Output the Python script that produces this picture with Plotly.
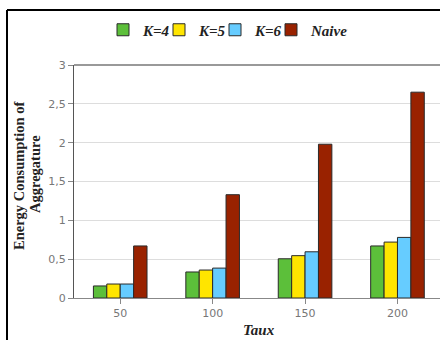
import plotly.graph_objects as go

categories = ["50", "100", "150", "200"]
series_names = ["K=4", "K=5", "K=6", "Naive"]
k4 = [0.155, 0.335, 0.505, 0.67]
k5 = [0.18, 0.36, 0.545, 0.72]
k6 = [0.18, 0.385, 0.595, 0.78]
naive = [0.67, 1.33, 1.98, 2.65]
ytick_vals = [0, 0.5, 1, 1.5, 2, 2.5, 3]
ytick_text = ["0", "0,5", "1", "1,5", "2", "2,5", "3"]
colors = ["#5CBF3A", "#FFE500", "#66CCFF", "#992200"]

W, H = 440, 340
L, R, T, B = 74, 0, 65, 42
pw = W - L - R
ph = H - T - B

def px_x(x):
    return (x - L) / pw

def px_y(y):
    return (H - B - y) / ph

fig = go.Figure()
for name, vals, col in zip(series_names, [k4, k5, k6, naive], colors):
    fig.add_trace(go.Bar(
        x=categories, y=vals, name=f"<b><i>{name}</i></b>",
        marker=dict(color=col, line=dict(color="#2a2a2a", width=1)),
    ))
# blank spacer entry so the last legend label is not clipped
fig.add_trace(go.Scatter(x=[None], y=[None], mode="markers", name="\u00a0",
                         marker=dict(opacity=0, size=1), hoverinfo="skip"))

serif = "Liberation Serif"
tickfont = dict(family="DejaVu Sans", size=11, color="#777777")

fig.update_layout(
    width=W, height=H,
    margin=dict(l=L, r=R, t=T, b=B),
    paper_bgcolor="white", plot_bgcolor="white",
    barmode="group", bargap=0.42, bargroupgap=0,
    showlegend=True,
    legend=dict(
        orientation="h", x=px_x(103), y=px_y(30), xanchor="left", yanchor="middle",
        font=dict(family=serif, size=15, color="#222222"),
        entrywidth=11, entrywidthmode="pixels",
        tracegroupgap=0, bgcolor="rgba(0,0,0,0)",
    ),
    xaxis=dict(
        type="category", range=[-0.5, 3.46],
        showline=True, linecolor="#888888", linewidth=1,
        ticks="outside", ticklen=5, tickcolor="#888888",
        tickfont=tickfont, showgrid=False,
    ),
    yaxis=dict(
        range=[0, 3], tickvals=ytick_vals, ticktext=ytick_text,
        showline=True, linecolor="#555555", linewidth=1,
        ticks="outside", ticklen=5, tickcolor="#888888",
        tickfont=tickfont, gridcolor="#dddddd", gridwidth=1,
        zeroline=False,
    ),
    annotations=[
        dict(text="<b><i>Taux</i></b>", x=px_x(259), y=px_y(330), xref="paper", yref="paper",
             showarrow=False, font=dict(family=serif, size=15, color="#222222"),
             xanchor="center", yanchor="middle"),
        dict(text="<b>Energy Consumption of</b>", x=px_x(19), y=px_y(176),
             xref="paper", yref="paper", showarrow=False, textangle=-90,
             font=dict(family=serif, size=14.5, color="#222222"),
             xanchor="center", yanchor="middle"),
        dict(text="<b>Aggregature</b>", x=px_x(35), y=px_y(174),
             xref="paper", yref="paper", showarrow=False, textangle=-90,
             font=dict(family=serif, size=14.5, color="#222222"),
             xanchor="center", yanchor="middle"),
    ],
    shapes=[
        dict(type="line", xref="paper", yref="paper", x0=px_x(7), x1=px_x(7),
             y0=px_y(10), y1=px_y(345), line=dict(color="black", width=2)),
        dict(type="line", xref="paper", yref="paper", x0=px_x(7), x1=px_x(445),
             y0=px_y(10), y1=px_y(10), line=dict(color="black", width=2)),
        dict(type="line", xref="paper", yref="paper", x0=0, x1=1,
             y0=1, y1=1, line=dict(color="#777777", width=1.5)),
    ],
)

fig.write_html("out.html", config={"displayModeBar": False},
               post_script="document.body.style.margin='0px';")
